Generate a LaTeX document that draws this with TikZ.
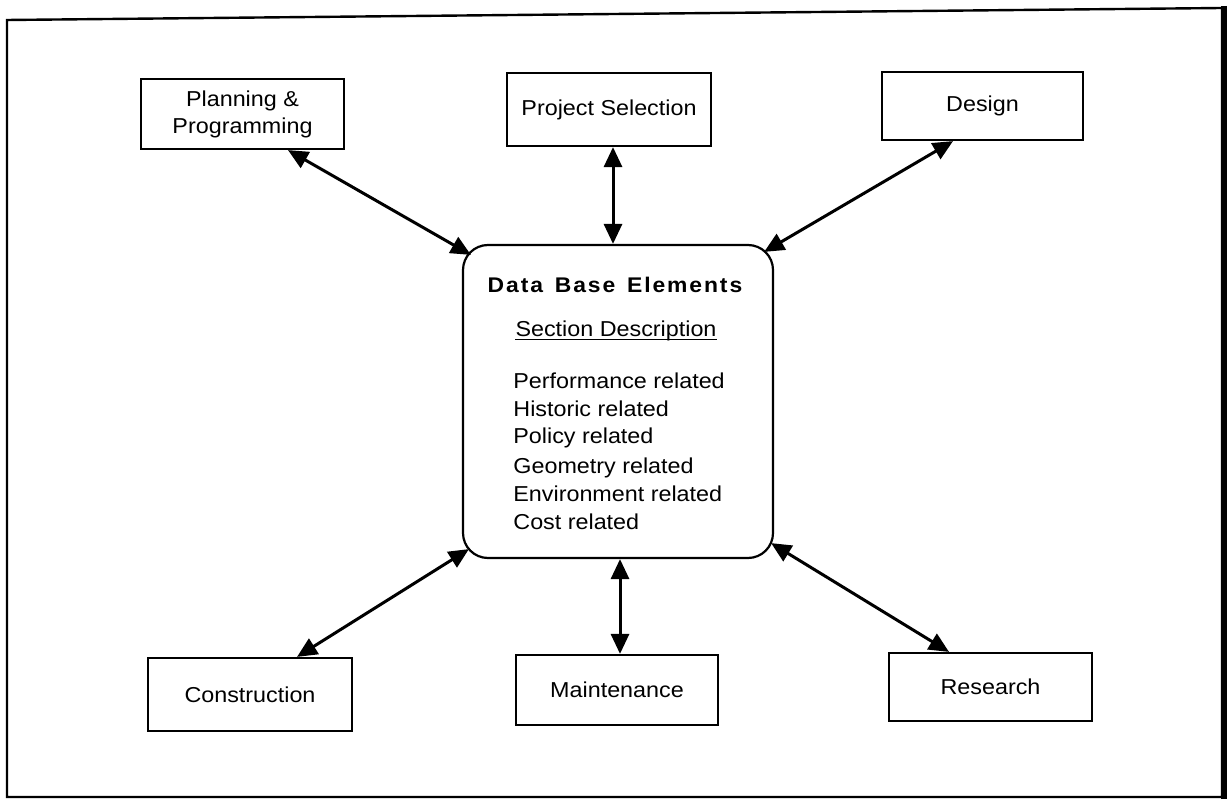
\documentclass[tikz,border=0pt]{standalone}
\usepackage{fontspec}
\setmainfont{Liberation Sans}[FakeStretch=1.08]
\newfontfamily\titlefont{Liberation Sans}[FakeStretch=1.08,LetterSpace=9]
\usetikzlibrary{arrows.meta,calc}
\begin{document}
\begin{tikzpicture}[x=0.5pt,y=-0.5pt,
  box/.style={draw,line width=1.1pt,inner sep=0pt,align=center,
    font=\fontsize{10.8}{13.5}\selectfont},
  hub/.style={draw,line width=1.1pt,rounded corners=12.5pt,inner sep=0pt,
    minimum width=155pt,minimum height=156.5pt},
  item/.style={anchor=base west,inner sep=0pt,font=\fontsize{10.8}{13}\selectfont},
  conn/.style={line width=1.5pt,
    {Triangle[length=10pt,width=9pt]}-{Triangle[length=10pt,width=9pt]}}]
\useasboundingbox (0,0) rectangle (1229,801);
% frame
\draw[line width=1.2pt] (7,20) -- (1222,8) -- (1222,797) -- (7,797) -- cycle;
\draw[line width=3pt] (1224,6) -- (1224,799);
% boxes
\node[box,minimum width=101.5pt,minimum height=35pt] (plan) at (242.5,114) {Planning \&\\Programming};
\node[box,minimum width=102pt,minimum height=36.5pt] (proj) at (609,109.5) {Project Selection};
\node[box,minimum width=100.5pt,minimum height=34pt] (design) at (982.5,106) {Design};
\node[box,minimum width=102pt,minimum height=36.5pt] (cons) at (250,694.5) {Construction};
\node[box,minimum width=101pt,minimum height=35pt] (maint) at (617,690) {Maintenance};
\node[box,minimum width=101.5pt,minimum height=34pt] (res) at (990.5,687) {Research};
% central element
\node[hub] (hub) at (618,401.5) {};
\node[anchor=base,inner sep=0pt,font=\titlefont\fontsize{10.6}{12}\bfseries\selectfont] (title) at (615,293) {Data\ \,Base\ \,Elements};
\node[anchor=base,inner sep=0pt,font=\fontsize{10.8}{13}\selectfont] (sect) at (616,337) {Section Description};
\draw[line width=0.6pt] ([yshift=-1.2pt]sect.base west) -- ([yshift=-1.2pt]sect.base east);
\node[item] (i1) at (513,388) {Performance related};
\node[item] (i2) at (513,416) {Historic related};
\node[item] (i3) at (513,444) {Policy related};
\node[item] (i4) at (513,473) {Geometry related};
\node[item] (i5) at (513,501) {Environment related};
\node[item] (i6) at (513,529) {Cost related};
% connectors
\draw[conn] ([xshift=22.75pt]plan.south) -- ([shift={(4.5pt,-5.5pt)}]hub.north west);
\draw[conn] ([xshift=2pt]proj.south) -- ([xshift=-2.5pt]hub.north);
\draw[conn] ([xshift=-14.75pt]design.south) -- ([shift={(-5pt,-4pt)}]hub.north east);
\draw[conn] ([xshift=23.5pt]cons.north) -- ([shift={(3.5pt,5pt)}]hub.south west);
\draw[conn] ([xshift=1.5pt]maint.north) -- ([xshift=1pt]hub.south);
\draw[conn] ([xshift=-20.75pt]res.north) -- ([shift={(-1.5pt,8pt)}]hub.south east);
\end{tikzpicture}
\end{document}
